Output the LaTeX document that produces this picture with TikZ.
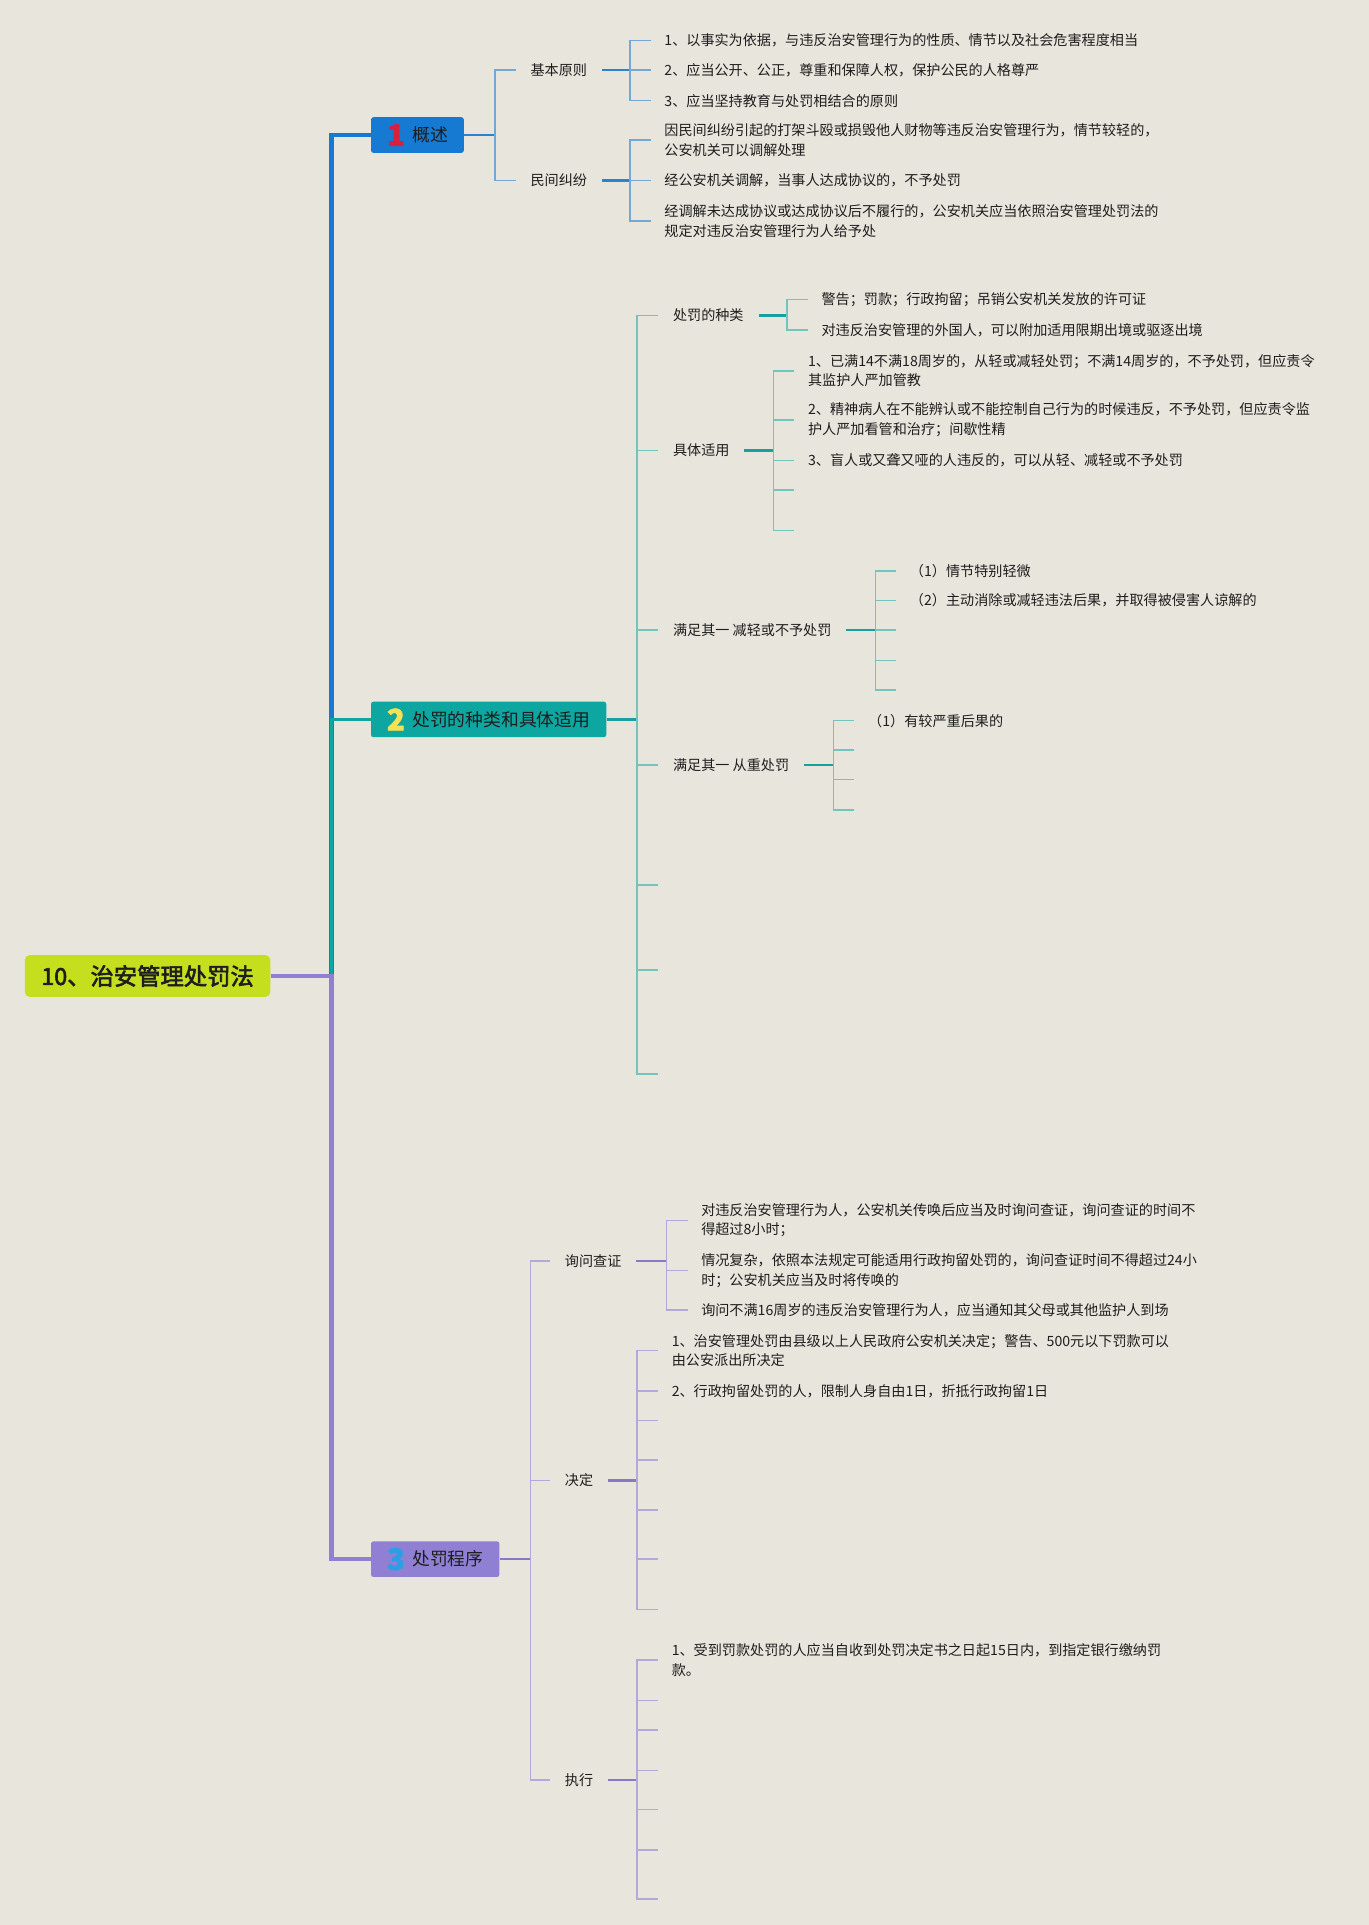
\documentclass[tikz,border=0pt]{standalone}
\usepackage{fontspec}
\setmainfont{Noto Sans CJK SC}[AutoFakeBold=2.5]
\newfontfamily\numfont{Noto Sans CJK SC}[FakeBold=2]
\usepackage{tikz}

\definecolor{bgc}{RGB}{232,229,221}
\definecolor{txtc}{RGB}{30,30,30}
\definecolor{rootc}{RGB}{197,222,30}
\definecolor{gsc}{RGB}{22,122,210}
\definecolor{gsm}{RGB}{45,130,205}
\definecolor{gsl}{RGB}{115,168,212}
\definecolor{cfc}{RGB}{14,166,160}
\definecolor{cfm}{RGB}{25,160,158}
\definecolor{cfl}{RGB}{115,195,190}
\definecolor{cxc}{RGB}{143,128,212}
\definecolor{cxm}{RGB}{135,120,200}
\definecolor{cxl}{RGB}{178,168,220}
\definecolor{noa}{RGB}{215,32,60}
\definecolor{nob}{RGB}{245,226,80}
\definecolor{noc}{RGB}{40,160,230}

\newcommand\secno[2]{\raisebox{-3.2pt}{\numfont\fontsize{24}{24}\selectfont\bfseries\color{#1}#2}\hspace{6pt}}

\begin{document}
\begin{tikzpicture}[x=1pt,y=-1pt,
  every node/.style={text=txtc},
  root/.style={anchor=west,fill=rootc,rounded corners=4pt,minimum width=200pt,minimum height=34pt,font=\fontsize{19}{22}\selectfont\bfseries},
  sect/.style={anchor=west,rounded corners=2pt,minimum height=29pt,inner xsep=13pt,inner ysep=0pt,font=\fontsize{14.5}{16}\selectfont},
  lab/.style={anchor=west,inner xsep=12pt,font=\fontsize{11.5}{14}\selectfont},
  leaf/.style={anchor=west,inner xsep=11pt,inner ysep=2pt,align=left,font=\fontsize{11.5}{16}\selectfont},
  trunk/.style={line width=3.5pt},
  stub/.style={line width=2pt},
  br/.style={line width=1.3pt}]
\fill[bgc] (0,0) rectangle (1115,1568);
\useasboundingbox (0,0) rectangle (1115,1568);

\node[root] (root) at (20,795) {10、治安管理处罚法};
\node[sect,fill=gsc] (gs) at (302,110) {\secno{noa}{1}概述};
\node[sect,fill=cfc] (cf) at (302,586) {\secno{nob}{2}处罚的种类和具体适用};
\node[sect,fill=cxc] (cx) at (302,1270) {\secno{noc}{3}处罚程序};

\coordinate (hub) at (270,795);
\draw[trunk,gsc] (hub) |- (gs.west);
\draw[stub,cfc] (hub) |- (cf.west);
\draw[trunk,cxc] (root.east) -- (hub) |- (cx.west);

\node[lab] (jbyz) at (420,57) {基本原则};
\node[lab] (mjjf) at (420,147) {民间纠纷};
\node[leaf] (a1) at (530,33) {1、以事实为依据，与违反治安管理行为的性质、情节以及社会危害程度相当};
\node[leaf] (a2) at (530,57) {2、应当公开、公正，尊重和保障人权，保护公民的人格尊严};
\node[leaf] (a3) at (530,82) {3、应当坚持教育与处罚相结合的原则};
\node[leaf] (b1) at (530,114) {因民间纠纷引起的打架斗殴或损毁他人财物等违反治安管理行为，情节较轻的，\\公安机关可以调解处理};
\node[leaf] (b2) at (530,147) {经公安机关调解，当事人达成协议的，不予处罚};
\node[leaf] (b3) at (530,180) {经调解未达成协议或达成协议后不履行的，公安机关应当依照治安管理处罚法的\\规定对违反治安管理行为人给予处};
\coordinate (gsb) at (403,110);
\coordinate (jbb) at (513,57);
\coordinate (mjb) at (513,147);
\draw[stub,gsm] (gs.east) -- (gsb);
\foreach \n in {jbyz,mjjf} \draw[br,gsl] (gsb) |- (\n.west);
\draw[stub,gsm] (jbyz.east) -- (jbb);
\foreach \n in {a1,a2,a3} \draw[br,gsl] (jbb) |- (\n.west);
\draw[stub,gsm] (mjjf.east) -- (mjb);
\foreach \n in {b1,b2,b3} \draw[br,gsl] (mjb) |- (\n.west);

\node[lab] (zl) at (536,257) {处罚的种类};
\node[lab] (jt) at (536,367) {具体适用};
\node[lab] (jq) at (536,513) {满足其一 减轻或不予处罚};
\node[lab] (cz) at (536,623) {满足其一 从重处罚};
\coordinate (e1) at (536,721);
\coordinate (e2) at (536,790);
\coordinate (e3) at (536,875);
\node[leaf] (c1) at (658,244) {警告；罚款；行政拘留；吊销公安机关发放的许可证};
\node[leaf] (c2) at (658,269) {对违反治安管理的外国人，可以附加适用限期出境或驱逐出境};
\node[leaf] (d1) at (647,302) {1、已满14不满18周岁的，从轻或减轻处罚；不满14周岁的，不予处罚，但应责令\\其监护人严加管教};
\node[leaf] (d2) at (647,342) {2、精神病人在不能辨认或不能控制自己行为的时候违反，不予处罚，但应责令监\\护人严加看管和治疗；间歇性精};
\node[leaf] (d3) at (647,375) {3、盲人或又聋又哑的人违反的，可以从轻、减轻或不予处罚};
\coordinate (d4) at (647,399);
\coordinate (d5) at (647,432);
\node[leaf] (f1) at (730,465) {（1）情节特别轻微};
\node[leaf] (f2) at (730,489) {（2）主动消除或减轻违法后果，并取得被侵害人谅解的};
\coordinate (f3) at (730,513);
\coordinate (f4) at (730,538);
\coordinate (f5) at (730,562);
\node[leaf] (g1) at (696,587) {（1）有较严重后果的};
\coordinate (g2) at (696,611);
\coordinate (g3) at (696,635);
\coordinate (g4) at (696,660);
\coordinate (cfb) at (519,586);
\coordinate (zlb) at (641,257);
\coordinate (jtb) at (630,367);
\coordinate (jqb) at (713,513);
\coordinate (czb) at (679,623);
\draw[stub,cfm] (cf.east) -- (cfb);
\foreach \n in {zl.west,jt.west,jq.west,cz.west,e1,e2,e3} \draw[br,cfl] (cfb) |- (\n);
\draw[stub,cfm] (zl.east) -- (zlb);
\foreach \n in {c1.west,c2.west} \draw[br,cfl] (zlb) |- (\n);
\draw[stub,cfm] (jt.east) -- (jtb);
\foreach \n in {d1.west,d2.west,d3.west,d4,d5} \draw[br,cfl] (jtb) |- (\n);
\draw[stub,cfm] (jq.east) -- (jqb);
\foreach \n in {f1.west,f2.west,f3,f4,f5} \draw[br,cfl] (jqb) |- (\n);
\draw[stub,cfm] (cz.east) -- (czb);
\foreach \n in {g1.west,g2,g3,g4} \draw[br,cfl] (czb) |- (\n);

\node[lab] (xw) at (448,1027) {询问查证};
\node[lab] (jd) at (448,1206) {决定};
\node[lab] (zx) at (448,1450) {执行};
\node[leaf] (h1) at (560,994) {对违反治安管理行为人，公安机关传唤后应当及时询问查证，询问查证的时间不\\得超过8小时；};
\node[leaf] (h2) at (560,1035) {情况复杂，依照本法规定可能适用行政拘留处罚的，询问查证时间不得超过24小\\时；公安机关应当及时将传唤的};
\node[leaf] (h3) at (560,1067) {询问不满16周岁的违反治安管理行为人，应当通知其父母或其他监护人到场};
\node[leaf] (i1) at (536,1100) {1、治安管理处罚由县级以上人民政府公安机关决定；警告、500元以下罚款可以\\由公安派出所决定};
\node[leaf] (i2) at (536,1133) {2、行政拘留处罚的人，限制人身自由1日，折抵行政拘留1日};
\coordinate (i3) at (536,1157);
\coordinate (i4) at (536,1189);
\coordinate (i5) at (536,1230);
\coordinate (i6) at (536,1270);
\coordinate (i7) at (536,1311);
\node[leaf] (k1) at (536,1352) {1、受到罚款处罚的人应当自收到处罚决定书之日起15日内，到指定银行缴纳罚\\款。};
\coordinate (k2) at (536,1385);
\coordinate (k3) at (536,1409);
\coordinate (k4) at (536,1442);
\coordinate (k5) at (536,1474);
\coordinate (k6) at (536,1507);
\coordinate (k7) at (536,1547);
\coordinate (cxb) at (432,1270);
\coordinate (xwb) at (543,1027);
\coordinate (jdb) at (519,1206);
\coordinate (zxb) at (519,1450);
\draw[stub,cxm] (cx.east) -- (cxb);
\foreach \n in {xw,jd,zx} \draw[br,cxl] (cxb) |- (\n.west);
\draw[stub,cxm] (xw.east) -- (xwb);
\foreach \n in {h1.west,h2.west,h3.west} \draw[br,cxl] (xwb) |- (\n);
\draw[stub,cxm] (jd.east) -- (jdb);
\foreach \n in {i1.west,i2.west,i3,i4,i5,i6,i7} \draw[br,cxl] (jdb) |- (\n);
\draw[stub,cxm] (zx.east) -- (zxb);
\foreach \n in {k1.west,k2,k3,k4,k5,k6,k7} \draw[br,cxl] (zxb) |- (\n);
\end{tikzpicture}
\end{document}
